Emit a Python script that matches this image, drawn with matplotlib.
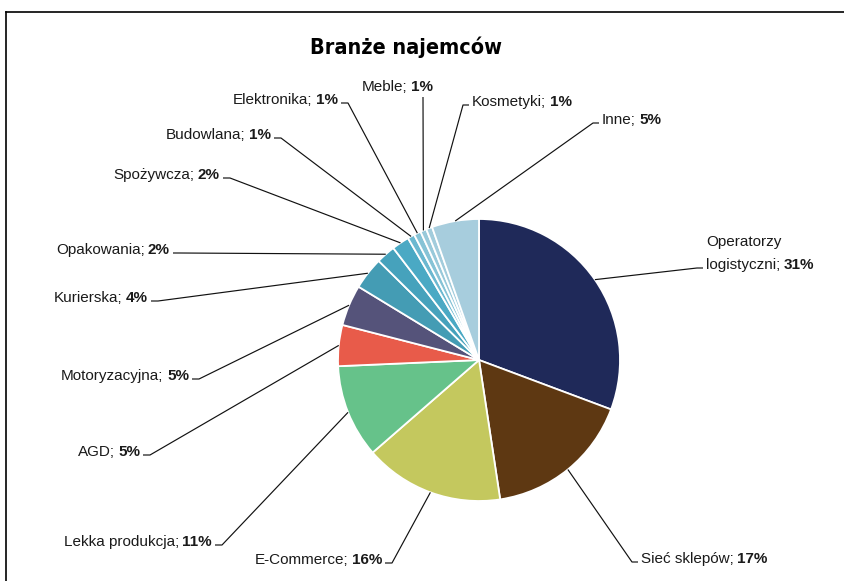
import matplotlib
matplotlib.use("Agg")
import matplotlib.pyplot as plt
from matplotlib import font_manager
from matplotlib.lines import Line2D
import numpy as np

# Tenant industries and their share of leased space (%)
categories = ["Operatorzy\nlogistyczni", "Sieć sklepów", "E-Commerce", "Lekka produkcja",
              "AGD", "Motoryzacyjna", "Kurierska", "Opakowania", "Spożywcza",
              "Budowlana", "Elektronika", "Meble", "Kosmetyki", "Inne"]
shares = [30.7, 16.9, 16.0, 10.7, 4.7, 4.7, 3.7, 2.2, 2.0, 0.8, 0.8, 0.7, 0.7, 5.4]
colors = ["#1f2959", "#5e3812", "#c4c85e", "#66c28a", "#e85b4a", "#55537a", "#449cb4",
          "#46a2bc", "#4aa9c4", "#6bb8d0", "#86c3d6", "#98c9da", "#a2ccdc", "#a7cddd"]
title = "Branże najemców"

fonts = font_manager.fontManager.ttflist
available = {f.name for f in fonts}
label_font = "Liberation Sans" if "Liberation Sans" in available else "DejaVu Sans"

# Prefer a condensed bold face for the heading when one is installed
title_kw = dict(family=label_font, fontweight="bold", fontsize=16)
if "Liberation Sans Narrow" in available:
    title_kw = dict(family="Liberation Sans Narrow", fontweight="bold", fontsize=18)
elif any(f.name == "DejaVu Sans" and "ondensed" in str(f.stretch) + f.fname for f in fonts):
    title_kw = dict(family="DejaVu Sans", fontstretch="condensed", fontweight="bold",
                    fontsize=15.5)

W, H = 844, 581
fig = plt.figure(figsize=(W / 100, H / 100), dpi=100)
ax = fig.add_axes([0, 0, 1, 1])

cx, cy, R = 479, H - 360, 141
wedges, _ = ax.pie(shares, colors=colors, startangle=90, counterclock=False,
                   radius=R, center=(cx, cy),
                   wedgeprops=dict(edgecolor="white", linewidth=1.3))
ax.set_xlim(0, W)
ax.set_ylim(0, H)
ax.set_aspect("equal")
ax.axis("off")

# Label placement in pixel space: side of the text and the elbow of each leader line
layout = {
    "Operatorzy\nlogistyczni": ("R", 697, 268),
    "Sieć sklepów": ("R", 632, 562),
    "E-Commerce": ("L", 392, 563),
    "Lekka produkcja": ("L", 222, 545),
    "AGD": ("L", 150, 455),
    "Motoryzacyjna": ("L", 199, 379),
    "Kurierska": ("L", 158, 301),
    "Opakowania": ("L", 180, 253),
    "Spożywcza": ("L", 230, 178),
    "Budowlana": ("L", 281, 138),
    "Elektronika": ("L", 348, 103),
    "Meble": ("T", 423, 97),
    "Kosmetyki": ("R", 463, 105),
    "Inne": ("R", 593, 123),
}

fs = 11
line_kw = dict(color="#111111", lw=0.85, solid_capstyle="butt")
txt_kw = dict(fontsize=fs, family=label_font, color="#1a1a1a")

for w, name, val in zip(wedges, categories, shares):
    side, ex, ey = layout[name]
    ey = H - ey
    ang = np.deg2rad((w.theta1 + w.theta2) / 2)
    sx, sy = cx + R * np.cos(ang), cy + R * np.sin(ang)
    pct = f"{round(val)}%"
    lines = name.split("\n")
    last = lines[-1] + ";"

    if side == "L":
        tx = ex - 7
        ax.plot([sx, ex, tx], [sy, ey, ey], **line_kw)
        pt = ax.text(tx - 3, ey - 1, pct, ha="right", va="baseline",
                     fontweight="bold", **txt_kw)
        ax.annotate(last, xy=(0, 0), xycoords=pt, xytext=(-2.5, 0),
                    textcoords="offset points", ha="right", va="bottom", **txt_kw)
    elif side == "R":
        tx = ex + 6
        ax.plot([sx, ex, tx], [sy, ey, ey], **line_kw)
        nt = ax.text(tx + 3, ey - 1, last, ha="left", va="baseline", **txt_kw)
        ax.annotate(pct, xy=(1, 0), xycoords=nt, xytext=(2.5, 0),
                    textcoords="offset points", ha="left", va="bottom",
                    fontweight="bold", **txt_kw)
        for i, extra in enumerate(reversed(lines[:-1]), start=1):
            ax.text(tx + 3, ey - 1 + 23 * i, extra, ha="left", va="baseline", **txt_kw)
    else:
        ax.plot([sx, ex], [sy, ey], **line_kw)
        pt = ax.text(ex + 10, ey + 6, pct, ha="right", va="baseline",
                     fontweight="bold", **txt_kw)
        ax.annotate(last, xy=(0, 0), xycoords=pt, xytext=(-2.5, 0),
                    textcoords="offset points", ha="right", va="bottom", **txt_kw)

ax.text(406, H - 53.5, title, ha="center", va="baseline", color="black", **title_kw)

# Chart frame (top and left edges)
fig.add_artist(Line2D([6 / W, 1], [1 - 12 / H] * 2, transform=fig.transFigure,
                      color="black", lw=1.2))
fig.add_artist(Line2D([6 / W] * 2, [1 - 12 / H, 0], transform=fig.transFigure,
                      color="black", lw=1.2))

fig.savefig("out.png", dpi=100, facecolor="white")
